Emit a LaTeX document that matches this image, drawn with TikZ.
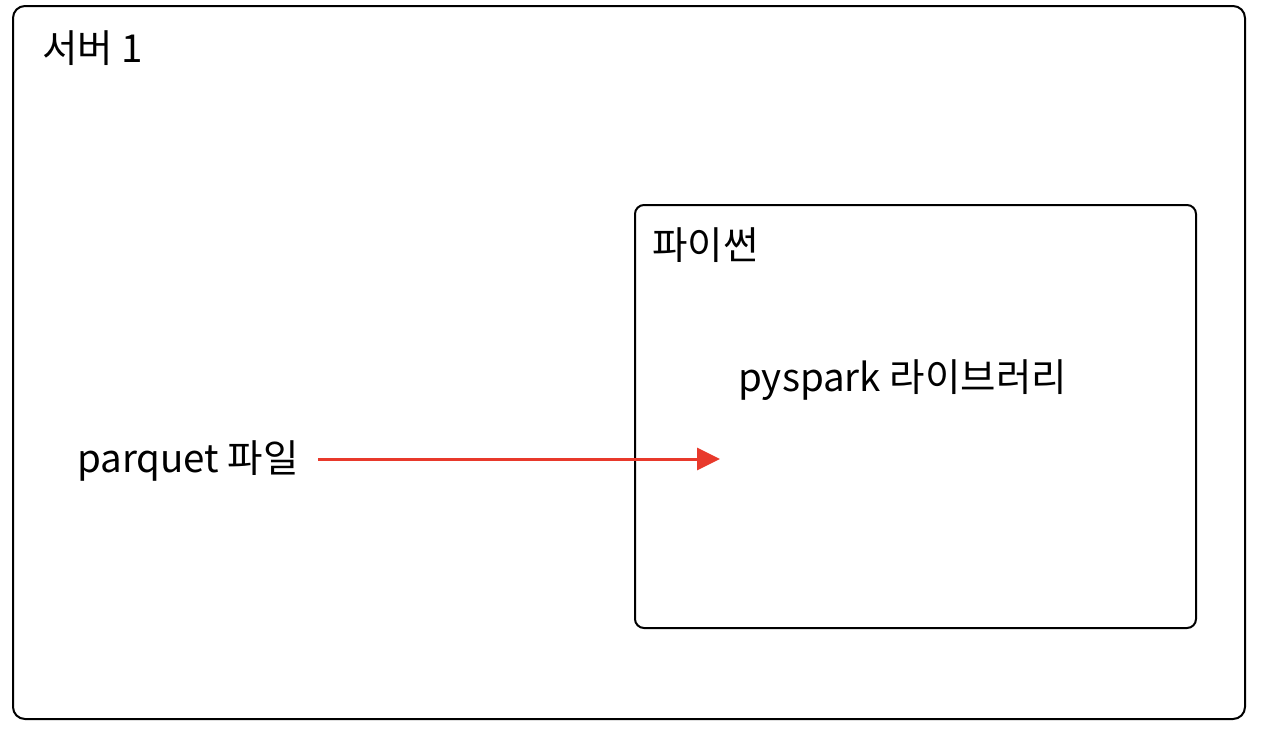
\documentclass[tikz,border=0pt]{standalone}
\usepackage{fontspec}
\setmainfont{Noto Sans CJK KR}
\usetikzlibrary{arrows.meta}
\definecolor{flowred}{HTML}{E8392B}
\begin{document}
\begin{tikzpicture}[x=1pt, y=-1pt, >={Triangle[length=23pt, width=22pt]},
  box/.style={draw, line width=2pt, rounded corners=12pt, inner sep=0pt},
  label/.style={inner sep=0pt, anchor=west, font=\fontsize{38.5}{44}\selectfont},
  flow/.style={->, draw=flowred, fill=flowred, line width=3pt}]
\useasboundingbox (0,0) rectangle (1262,744);
\node[box, minimum width=1232pt, minimum height=713pt] (server) at (629,362.5) {};
\node[box, minimum width=561pt, minimum height=423pt, rounded corners=9pt] (python) at (915.5,416.5) {};
\node[label] (servername) at (42,48) {서버 1};
\node[label] (pythonname) at (652,245) {파이썬};
\node[label] (pyspark) at (738,380) {pyspark 라이브러리};
\node[label] (parquet) at (77,461) {parquet 파일};
\coordinate (tip) at (720,459);
\draw[flow] (parquet.east |- tip) ++(19,0) -- (tip);
\end{tikzpicture}
\end{document}
